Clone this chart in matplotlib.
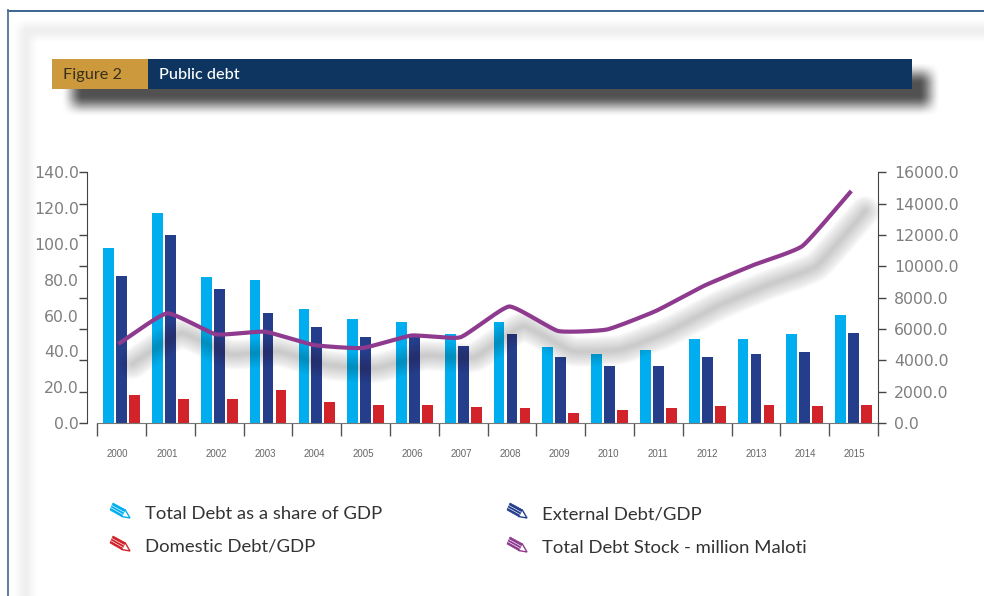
import numpy as np
import matplotlib
matplotlib.use("Agg")
import matplotlib.pyplot as plt
from matplotlib.patches import Polygon, Rectangle
from matplotlib.transforms import ScaledTranslation

years = list(range(2000, 2016))
total_debt = [97.5, 117.1, 81.3, 79.9, 63.7, 57.9, 56.2, 49.5, 56.6, 42.6, 38.5, 40.9, 46.9, 46.9, 49.5, 60.3]
external_debt = [81.9, 105.2, 74.8, 61.3, 53.6, 47.9, 47.9, 42.8, 49.5, 36.9, 31.7, 31.7, 36.9, 38.5, 39.7, 50.3]
domestic_debt = [15.6, 13.2, 13.2, 18.6, 11.6, 10.1, 10.1, 8.9, 8.2, 5.6, 7.3, 8.2, 9.3, 10.1, 9.3, 10.1]
debt_stock = [5042, 7001, 5661, 5827, 4978, 4787, 5584, 5470, 7435, 5872, 5967, 7148, 8776, 10084, 11297, 14807]

left_labels = [0, 20, 40, 60, 80, 100, 120, 140]
right_ticks = [0, 2000, 4000, 6000, 8000, 10000, 12000, 14000, 16000]

CYAN = "#00aeef"
BLUE = "#243e8c"
RED = "#d2232a"
PURPLE = "#8e3a8e"
W, H = 984, 596


def soft_rect(xx, yy, x0, x1, y0, y1, blur):
    # rectangle mask with feathered edges
    def ramp(t):
        t = np.clip(t, 0, 1)
        return t * t * (3 - 2 * t)
    mx = ramp((xx - x0 + blur) / (2 * blur)) * ramp((x1 - xx + blur) / (2 * blur))
    my = ramp((yy - y0 + blur) / (2 * blur)) * ramp((y1 - yy + blur) / (2 * blur))
    return mx * my


def smooth_curve(x, y, n=24, tension=0.22):
    # cardinal spline through the yearly points, tighter than Catmull-Rom
    x = np.asarray(x, float)
    y = np.asarray(y, float)
    def seg(v):
        p = np.r_[2 * v[0] - v[1], v, 2 * v[-1] - v[-2]]
        m = tension * (p[2:] - p[:-2])
        t = np.linspace(0, 1, n, endpoint=False)[:, None]
        h00 = 2 * t ** 3 - 3 * t ** 2 + 1
        h10 = t ** 3 - 2 * t ** 2 + t
        h01 = -2 * t ** 3 + 3 * t ** 2
        h11 = t ** 3 - t ** 2
        out = h00 * v[:-1] + h10 * m[:-1] + h01 * v[1:] + h11 * m[1:]
        return np.r_[out.T.ravel(), v[-1]]
    return seg(x), seg(y)


def pencil(bg, x, y, color):
    # small tilted pencil used as a legend key
    body = [(x + 3, y), (x + 15, y + 6.5), (x + 11.5, y + 13.5), (x, y + 7)]
    tip = [(x + 15, y + 6.5), (x + 20, y + 15), (x + 11.5, y + 13.5)]
    bg.add_patch(Polygon(body, closed=True, fc=color, ec=color, lw=0.5))
    for f in (0.36, 0.68):
        a = (x + 3 - 3 * f, y + 7 * f)
        b = (x + 15 - 3.5 * f, y + 6.5 + 7 * f)
        bg.plot([a[0], b[0]], [a[1], b[1]], color="white", lw=0.45)
    bg.add_patch(Polygon(tip, closed=True, fc="white", ec=color, lw=1.0))


fig = plt.figure(figsize=(W / 100, H / 100), dpi=100, facecolor="white")

# page background: soft frame and the header's drop shadow
bg = fig.add_axes([0, 0, 1, 1], zorder=0)
bg.set_xlim(0, W)
bg.set_ylim(H, 0)
bg.axis("off")
yy, xx = np.mgrid[0:H, 0:W] + 0.5
frame = soft_rect(xx, yy, 19, 1100, 24, 800, 8) * (1 - soft_rect(xx, yy, 32, 1100, 37, 800, 7))
header_shadow = soft_rect(xx, yy, 72, 930, 73, 106, 11)
shade = np.clip(1 - 0.065 * frame, 0, 1) * (1 - 0.68 * header_shadow)
bg.imshow(shade, extent=(0, W, H, 0), cmap="gray", vmin=0, vmax=1, aspect="auto", interpolation="bilinear")

bg.plot([8, W], [10.5, 10.5], color="#1a4a80", lw=1.2)
bg.plot([8, 8], [10, H], color="#4f7196", lw=1.3)

bg.add_patch(Rectangle((52, 59), 96, 29.5, fc="#cc9a3c", ec="none"))
bg.add_patch(Rectangle((148, 59), 764, 29.5, fc="#0d3560", ec="none"))
bg.text(63, 75, "Figure 2", color="#3a2f1a", fontsize=11.7, family="Lato", va="center")
bg.text(159, 75, "Public debt", color="white", fontsize=11.7, family="Lato", weight="medium", va="center")

# bars on the percentage axis
ax = fig.add_axes([86.7 / W, 1 - 423 / H, (878 - 86.7) / W, (423 - 172.3) / H], zorder=2)
ax.patch.set_alpha(0)
pos = np.arange(len(years))
bar_w = 10.7 / 48.86
step = 13 / 48.86
ax.bar(pos - step, total_debt, bar_w, color=CYAN)
ax.bar(pos, external_debt, bar_w, color=BLUE)
ax.bar(pos + step, domestic_debt, bar_w, color=RED)
ax.set_xlim(-0.716, 15.48)
ax.set_ylim(0, 140)

for side in ("top", "right"):
    ax.spines[side].set_visible(False)
ax.spines["left"].set_color("#444444")
ax.spines["bottom"].set_color("#777777")
ax.spines["bottom"].set_bounds(-0.5, 15.5)
ax.set_xticks(np.arange(-0.5, 15.6, 1))
ax.set_xticklabels([])
ax.tick_params(axis="x", which="major", direction="out", length=9.2, width=1, color="#555555")
ax.set_xticks(pos * 1.006 - 0.08, minor=True)
ax.set_xticklabels([str(y) for y in years], minor=True, fontsize=7, color="#666666",
                   family="Liberation Sans")
ax.tick_params(axis="x", which="minor", length=0, pad=19)

# the left axis has nine marks but eight labels, so labels sit on minor ticks
ax.yaxis.remove_overlapping_locs = False
ax.set_yticks(np.linspace(0, 140, 9))
ax.set_yticklabels([])
ax.tick_params(axis="y", which="major", direction="out", length=6, width=1, color="#444444")
ax.set_yticks(left_labels, minor=True)
ax.set_yticklabels(["%.1f" % v for v in left_labels], minor=True, fontsize=11.3, color="#7f7f7f")
ax.tick_params(axis="y", which="minor", length=0, pad=5.5)

# debt stock line on the right axis
ax2 = ax.twinx()
ax2.set_ylim(0, 16000)
ax2.patch.set_alpha(0)
for side in ("top", "left", "bottom"):
    ax2.spines[side].set_visible(False)
ax2.spines["right"].set_color("#444444")
ax2.set_yticks(right_ticks)
ax2.set_yticklabels(["%.1f" % v for v in right_ticks], fontsize=11.3, color="#7f7f7f")
ax2.tick_params(axis="y", direction="out", length=6, width=1, color="#444444", pad=5.5)

cx, cy = smooth_curve(pos * 1.0015 - 0.07, debt_stock)
shift = ax2.transData + ScaledTranslation(14 / 100, -20 / 100, fig.dpi_scale_trans)
for lw in np.linspace(22, 2, 16):
    ax2.plot(cx, cy, color="#303030", alpha=0.015, lw=lw, transform=shift,
             solid_capstyle="round", clip_on=False)
ax2.plot(cx, cy, color=PURPLE, lw=3, solid_capstyle="butt", solid_joinstyle="round")

# legend
legend_items = [
    (110, 503, CYAN, 145, 513, "Total Debt as a share of GDP"),
    (110, 536, RED, 145, 546, "Domestic Debt/GDP"),
    (507, 503, BLUE, 542.5, 513, "External Debt/GDP"),
    (507, 537, PURPLE, 542.5, 547, "Total Debt Stock - million Maloti"),
]
for ix, iy, c, tx, ty, label in legend_items:
    pencil(bg, ix, iy, c)
    bg.text(tx, ty + 1, label, color="#333333", fontsize=13.3, family="Lato", va="center")
bg.set_xlim(0, W)
bg.set_ylim(H, 0)

fig.savefig("out.png", dpi=100)
